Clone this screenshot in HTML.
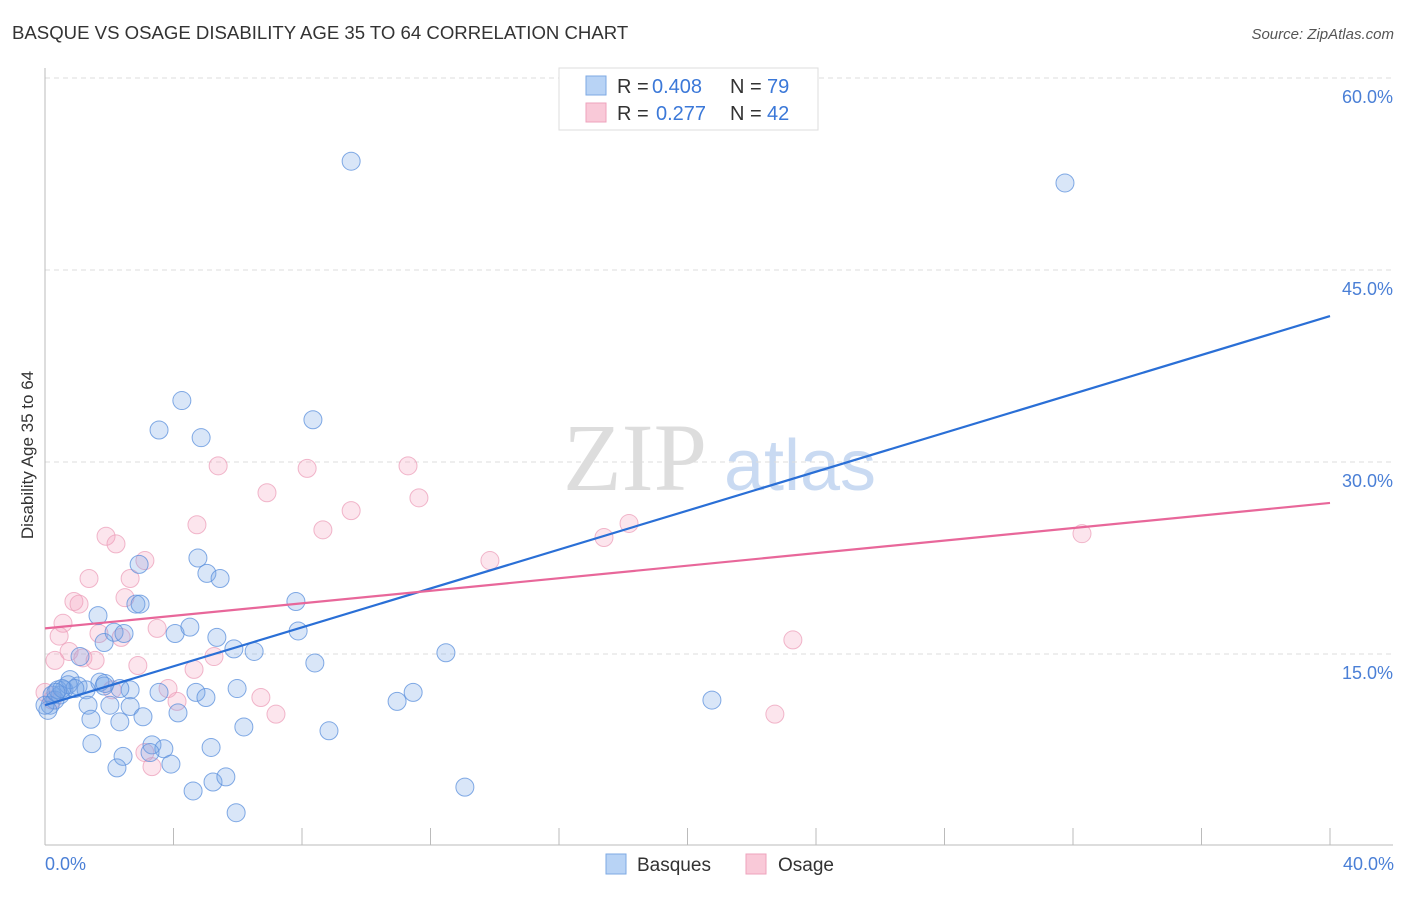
<!DOCTYPE html>
<html><head><meta charset="utf-8"><style>
body{margin:0;background:#fff;font-family:"Liberation Sans",sans-serif}
</style></head><body>
<svg id="chart" width="1406" height="892" xmlns="http://www.w3.org/2000/svg">
<text x="12" y="39" font-size="18.6" fill="#333">BASQUE VS OSAGE DISABILITY AGE 35 TO 64 CORRELATION CHART</text>
<text x="1394" y="39" font-size="15" fill="#555" font-style="italic" text-anchor="end">Source: ZipAtlas.com</text>
<g>
<text x="635" y="490" font-size="96" font-family="Liberation Serif,serif" fill="#ddd" text-anchor="middle">ZIP</text>
<text x="800" y="490" font-size="72" fill="#c9daf2" text-anchor="middle">atlas</text>
</g>
<g id="grid"></g><g id="axes"></g><g id="marks"></g>
<text transform="translate(33,455) rotate(-90)" font-size="17" fill="#333" text-anchor="middle">Disability Age 35 to 64</text>
<text x="45" y="870" font-size="18" fill="#4a7fd6">0.0%</text>
<text x="1394" y="870" font-size="18" fill="#4a7fd6" text-anchor="end">40.0%</text>
<g>
<rect x="559" y="68" width="259" height="62" fill="#fff" stroke="#ddd"/>
<rect x="586" y="76" width="20" height="19" fill="#b8d3f5" stroke="#7ea9e3"/>
<rect x="586" y="103" width="20" height="19" fill="#f9c9d8" stroke="#eea3bd"/>
<text x="617" y="93" font-size="20" fill="#333">R = <tspan fill="#3b78d8" x="652">0.408</tspan><tspan x="730">N = </tspan><tspan fill="#3b78d8" x="767">79</tspan></text>
<text x="617" y="120" font-size="20" fill="#333">R = <tspan fill="#3b78d8" x="656">0.277</tspan><tspan x="730">N = </tspan><tspan fill="#3b78d8" x="767">42</tspan></text>
</g>
<g>
<rect x="606" y="854" width="20" height="20" fill="#b8d3f5" stroke="#7ea9e3"/>
<text x="637" y="871" font-size="19" fill="#333">Basques</text>
<rect x="746" y="854" width="20" height="20" fill="#f9c9d8" stroke="#eea3bd"/>
<text x="778" y="871" font-size="19" fill="#333">Osage</text>
</g>
</svg>
<script>
const yTicks=[15,30,45,60];
const yTickLabels=["15.0%","30.0%","45.0%","60.0%"];
const xTicks=[0,4,8,12,16,20,24,28,32,36,40];
const basqueX=[9.53,31.75,4.26,3.55,4.86,8.34,4.76,2.93,5.04,5.45,2.83,2.96,7.81,1.65,1.84,2.15,2.46,4.05,4.51,5.35,7.88,5.88,6.51,12.48,8.40,1.09,0.59,0.78,1.03,1.28,1.71,1.84,0.47,0.31,0.16,0.09,0.22,1.34,2.02,2.33,1.43,2.65,3.05,3.55,2.65,4.70,5.01,5.98,4.14,10.96,11.46,20.76,6.19,8.84,1.46,2.43,2.24,3.33,3.70,3.27,3.92,5.17,5.23,5.63,4.61,5.95,13.07,0.40,0.0,0.72,0.93,0.53,0.34,1.87,2.33];
const basqueY=[53.5,51.8,34.8,32.5,31.9,33.3,22.5,22.0,21.3,20.9,18.9,18.9,19.1,18.0,15.9,16.7,16.6,16.6,17.1,16.3,16.8,15.4,15.2,15.1,14.3,14.8,12.2,13.0,12.5,12.2,12.8,12.5,11.8,11.4,11.0,10.6,11.8,11.0,11.0,9.7,9.9,10.9,10.1,12.0,12.2,12.0,11.6,12.3,10.4,11.3,12.0,11.4,9.3,9.0,8.0,7.0,6.1,7.9,7.6,7.3,6.4,7.7,5.0,5.4,4.3,2.6,4.6,12.2,11.0,12.6,12.3,12.3,12.0,12.7,12.3];
const osageX=[1.90,2.21,1.37,2.65,3.11,0.90,1.06,0.56,0.44,1.68,2.37,3.49,2.49,0.75,1.18,1.56,0.31,2.89,2.09,0.22,0.0,3.83,4.11,4.64,5.26,4.73,5.39,6.91,8.16,8.65,9.53,11.30,11.64,13.85,17.40,18.18,32.28,23.28,22.72,7.19,6.72,3.33,3.11];
const osageY=[24.2,23.6,20.9,20.9,22.3,19.1,18.9,17.4,16.4,16.6,16.3,17.0,19.4,15.2,14.7,14.5,14.5,14.1,12.2,11.4,12.0,12.3,11.3,13.8,14.8,25.1,29.7,27.6,29.5,24.7,26.2,29.7,27.2,22.3,24.1,25.2,24.4,16.1,10.3,10.3,11.6,6.2,7.3];
const basqueTrend=[11.0,41.4];
const osageTrend=[17.0,26.8];
const X0=45,X1=1330,Y0=846,PX_PER=12.8;
const sx=v=>X0+v/40*(X1-X0);
const sy=v=>Y0-v*PX_PER;
const NS="http://www.w3.org/2000/svg";
function mk(tag,attrs,parent){const e=document.createElementNS(NS,tag);for(const k in attrs)e.setAttribute(k,attrs[k]);document.getElementById(parent).appendChild(e);return e;}
yTicks.forEach((t,i)=>{
 const l=mk('line',{x1:45,x2:1393,y1:sy(t),y2:sy(t),stroke:'#ddd','stroke-dasharray':'5,4'},'grid');
 
 
 const tx=mk('text',{x:1393,y:sy(t)+25,'font-size':18,fill:'#4a7fd6','text-anchor':'end'},'grid');
 tx.textContent=yTickLabels[i];
 
 
});
const ax=mk('line',{x1:45,x2:1393,y1:845,y2:845,stroke:'#bbb'},'axes');


const ay=mk('line',{x1:45,x2:45,y1:68,y2:845,stroke:'#bbb'},'axes');


xTicks.forEach(t=>{
 const l=mk('line',{x1:sx(t),x2:sx(t),y1:828,y2:845,stroke:'#bbb'},'axes');
 
 
});
function pts(xs,ys,fill,stroke,name){
 xs.forEach((x,i)=>{
  const c=mk('circle',{cx:sx(x),cy:sy(ys[i]),r:9,fill:fill,stroke:stroke,'stroke-width':1,'stroke-opacity':0.75},'marks');
  
  
 });
}
pts(osageX,osageY,'rgba(244,160,190,0.28)','#ec9fba','osage-point');
pts(basqueX,basqueY,'rgba(120,165,230,0.28)','#5a8fdc','basque-point');
const bl=mk('line',{x1:sx(0),y1:sy(basqueTrend[0]),x2:sx(40),y2:sy(basqueTrend[1]),stroke:'#2a6fd6','stroke-width':2.2},'marks');


const ol=mk('line',{x1:sx(0),y1:sy(osageTrend[0]),x2:sx(40),y2:sy(osageTrend[1]),stroke:'#e8679a','stroke-width':2.2},'marks');


</script>
</body></html>
